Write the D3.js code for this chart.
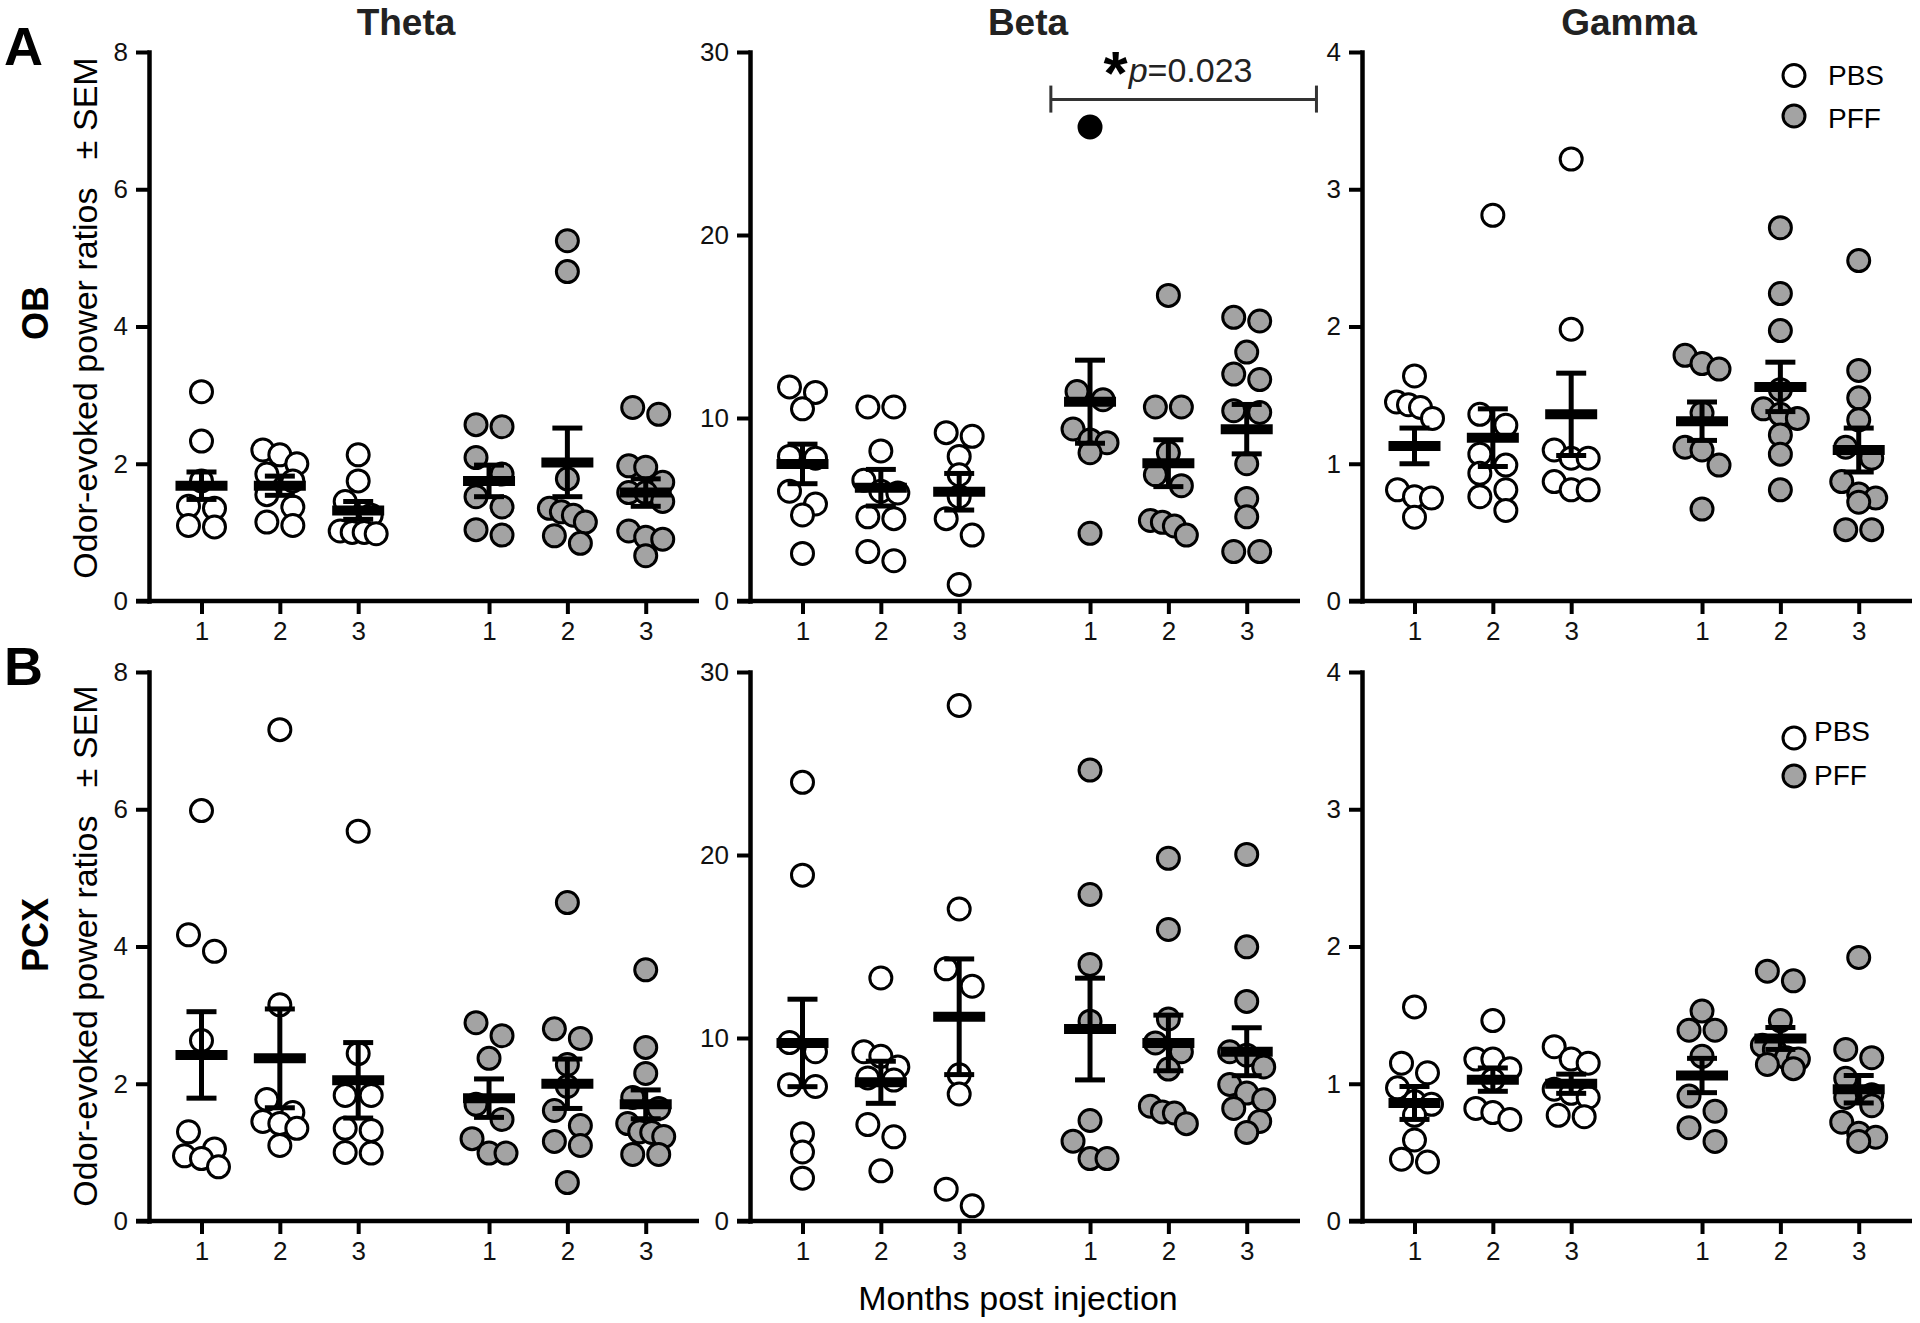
<!DOCTYPE html>
<html>
<head>
<meta charset="utf-8">
<script src="https://cdn.jsdelivr.net/npm/d3@7"></script>
<style>
  body { margin: 0; background: #fff; }
  svg { display: block; }
</style>
</head>
<body>
<div id="chart"></div>
<script>
// categories and tick labels
const months = ['1', '2', '3'];
const treatments = ['PBS', 'PFF'];
const bands = ['Theta', 'Beta', 'Gamma'];
const regions = ['OB', 'PCX'];
const yMaxima = [8, 30, 4];
const yTickValues = [[0, 2, 4, 6, 8], [0, 10, 20, 30], [0, 1, 2, 3, 4]];

// A - OB, values per month (1, 2, 3)
const thetaObPbs = [[3.05, 2.33, 1.75, 1.38, 1.35, 1.1, 1.08], [2.2, 2.13, 2.0, 1.85, 1.75, 1.55, 1.37, 1.1, 1.15], [2.13, 1.75, 1.45, 1.25, 1.0, 1.0, 1.02, 0.98]];
const thetaObPff = [[2.57, 2.54, 2.09, 1.85, 1.52, 1.37, 0.96, 1.04], [5.25, 4.8, 1.78, 1.35, 1.3, 1.25, 1.15, 0.95, 0.84], [2.82, 2.72, 1.95, 1.97, 1.73, 1.58, 1.45, 1.58, 1.02, 0.9, 0.93, 0.66]];
const thetaObMean = [1.68, 1.68, 1.32, 1.75, 2.02, 1.58];
const thetaObSem = [0.2, 0.14, 0.13, 0.23, 0.5, 0.2];

const betaObPbs = [[11.7, 11.4, 10.5, 7.9, 7.8, 6.0, 5.3, 4.7, 2.6], [10.6, 10.6, 8.2, 6.6, 6.0, 5.9, 4.5, 4.6, 2.2, 2.7], [9.2, 9.0, 7.9, 6.9, 5.7, 4.5, 3.6, 0.9]];
const betaObPff = [[11.45, 11.0, 9.4, 8.8, 8.65, 8.1, 3.7], [16.7, 10.6, 10.6, 8.1, 6.9, 6.3, 4.4, 4.3, 4.1, 3.6], [15.5, 15.3, 13.6, 12.4, 12.1, 10.4, 10.3, 7.5, 5.6, 4.6, 2.7, 2.7]];
const betaObPffFlagged = [[25.9], [], []];
const betaObMean = [7.49, 6.19, 5.97, 10.89, 7.53, 9.39];
const betaObSem = [1.08, 1.0, 1.0, 2.27, 1.28, 1.35];

const gammaObPbs = [[1.64, 1.45, 1.43, 1.41, 1.33, 0.81, 0.76, 0.75, 0.61], [2.81, 1.36, 1.28, 1.07, 0.99, 0.93, 0.81, 0.76, 0.66], [3.22, 1.98, 1.1, 1.04, 1.04, 0.87, 0.81, 0.81]];
const gammaObPff = [[1.79, 1.73, 1.69, 1.37, 1.12, 1.1, 0.99, 0.67], [2.72, 2.24, 1.97, 1.54, 1.4, 1.36, 1.33, 1.21, 1.07, 0.81], [2.48, 1.68, 1.48, 1.32, 1.12, 1.04, 0.87, 0.78, 0.75, 0.72, 0.52, 0.52]];
const gammaObMean = [1.13, 1.19, 1.36, 1.31, 1.56, 1.1];
const gammaObSem = [0.13, 0.21, 0.3, 0.14, 0.18, 0.16];

// B - PCX
const thetaPcxPbs = [[5.98, 4.17, 3.93, 2.63, 1.3, 1.05, 0.95, 0.91, 0.79], [7.16, 3.15, 1.77, 1.58, 1.45, 1.42, 1.35, 1.1], [5.68, 2.44, 1.83, 1.83, 1.32, 1.35, 0.99, 1.0]];
const thetaPcxPff = [[2.89, 2.7, 2.37, 1.7, 1.48, 1.2, 0.99, 0.99], [4.64, 2.8, 2.66, 2.28, 1.96, 1.61, 1.39, 1.16, 1.1, 0.56], [3.66, 2.53, 2.15, 1.8, 1.64, 1.42, 1.3, 1.29, 1.23, 0.97, 0.97]];
const thetaPcxMean = [2.42, 2.37, 2.05, 1.79, 2.0, 1.7];
const thetaPcxSem = [0.63, 0.72, 0.55, 0.28, 0.36, 0.21];

const betaPcxPbs = [[23.97, 18.9, 9.75, 9.25, 7.45, 7.35, 4.77, 3.77, 2.34], [13.28, 9.25, 9.0, 8.42, 7.82, 7.7, 5.27, 4.6, 2.74], [28.17, 17.05, 13.78, 12.83, 7.99, 6.94, 1.74, 0.83]];
const betaPcxPff = [[24.64, 17.84, 14.02, 10.92, 5.49, 4.36, 3.41, 3.41], [19.82, 15.93, 11.04, 9.73, 9.25, 8.3, 6.27, 5.96, 5.9, 5.32], [20.03, 14.98, 12.0, 9.25, 9.06, 8.42, 7.46, 6.99, 6.63, 6.15, 5.44, 4.84]];
const betaPcxMean = [9.73, 7.58, 11.16, 10.49, 9.73, 9.25];
const betaPcxSem = [2.39, 1.15, 3.16, 2.78, 1.52, 1.31];

const gammaPcxPbs = [[1.56, 1.15, 1.08, 0.97, 0.87, 0.85, 0.77, 0.59, 0.45, 0.43], [1.46, 1.18, 1.18, 1.11, 1.03, 0.82, 0.79, 0.74], [1.27, 1.18, 1.15, 0.96, 0.93, 0.9, 0.77, 0.76]];
const gammaPcxPff = [[1.53, 1.39, 1.39, 1.2, 0.91, 0.8, 0.68, 0.58], [1.82, 1.75, 1.46, 1.28, 1.25, 1.19, 1.18, 1.14, 1.11], [1.92, 1.25, 1.19, 1.04, 0.92, 0.9, 0.84, 0.72, 0.64, 0.61, 0.58]];
const gammaPcxMean = [0.86, 1.03, 1.0, 1.06, 1.33, 0.96];
const gammaPcxSem = [0.12, 0.085, 0.07, 0.125, 0.08, 0.1];

// significance annotation (Beta, OB, PBS vs PFF)
const betaObBracketLevel = 27.4;
const betaObPText = 'p=0.023';

// panel table built from the arrays above
const panels = [
  [
    { pbs: thetaObPbs, pff: thetaObPff, mean: thetaObMean, sem: thetaObSem },
    { pbs: betaObPbs, pff: betaObPff, flagged: betaObPffFlagged, mean: betaObMean, sem: betaObSem },
    { pbs: gammaObPbs, pff: gammaObPff, mean: gammaObMean, sem: gammaObSem }
  ],
  [
    { pbs: thetaPcxPbs, pff: thetaPcxPff, mean: thetaPcxMean, sem: thetaPcxSem },
    { pbs: betaPcxPbs, pff: betaPcxPff, mean: betaPcxMean, sem: betaPcxSem },
    { pbs: gammaPcxPbs, pff: gammaPcxPff, mean: gammaPcxMean, sem: gammaPcxSem }
  ]
];

// layout
const FONT = '"Liberation Sans", Arial, Helvetica, sans-serif';
const width = 1920, height = 1323;
const colAxisX = [149, 750, 1362];
const rowTop = [52, 672];
const rowBottom = [601, 1221];
const plotWidth = 550;
const slots = [1, 2, 3, 4.67, 5.67, 6.67];
const tickLen = 13;
const dotR = 11;
const pffFill = '#a3a3a3';

const svg = d3.select('#chart')
  .append('svg')
  .attr('width', width)
  .attr('height', height)
  .style('font-family', FONT);

svg.append('rect').attr('width', width).attr('height', height).attr('fill', '#fff');

// place dots of one group: rows of nearby values are spread symmetrically
function rowSpacing(n) {
  if (n <= 1) return 0;
  if (n === 2) return 26;
  if (n === 3) return 17;
  if (n === 4) return 12;
  return 44 / (n - 1);
}

function swarm(items, cx, y) {
  const sorted = items.slice().sort((a, b) => b.value - a.value);
  const rows = [];
  sorted.forEach(d => {
    const py = y(d.value);
    const last = rows[rows.length - 1];
    if (last && py - last.y0 < 18) last.items.push(d);
    else rows.push({ y0: py, items: [d] });
  });
  const out = [];
  rows.forEach(row => {
    const n = row.items.length;
    const sp = rowSpacing(n);
    row.items.forEach((d, k) => {
      out.push({ ...d, px: cx + (k - (n - 1) / 2) * sp, py: y(d.value) });
    });
  });
  return out;
}

function drawPanel(r, c) {
  const panel = panels[r][c];
  const ax = colAxisX[c];
  const y = d3.scaleLinear().domain([0, yMaxima[c]]).range([rowBottom[r], rowTop[r]]);
  const x = d3.scaleLinear().domain([0.33, 7.35]).range([ax, ax + plotWidth]);
  const g = svg.append('g');

  // y axis
  const ya = g.append('g')
    .attr('transform', `translate(${ax},0)`)
    .call(d3.axisLeft(y).tickValues(yTickValues[c]).tickFormat(d => String(d))
      .tickSize(tickLen).tickSizeOuter(0).tickPadding(8))
    .attr('font-family', FONT)
    .attr('font-size', 26);
  ya.select('.domain').attr('stroke', '#000').attr('stroke-width', 4.5).attr('stroke-linecap', 'square');
  ya.selectAll('.tick line').attr('stroke', '#000').attr('stroke-width', 4);
  ya.selectAll('.tick text').attr('fill', '#111');

  // x axis
  const xa = g.append('g')
    .attr('transform', `translate(0,${rowBottom[r]})`)
    .call(d3.axisBottom(x).tickValues(slots).tickFormat((d, i) => months[i % 3])
      .tickSize(tickLen).tickSizeOuter(0).tickPadding(8))
    .attr('font-family', FONT)
    .attr('font-size', 26);
  xa.select('.domain').remove();
  xa.append('line')
    .attr('x1', x.range()[0] - tickLen).attr('x2', x.range()[1])
    .attr('stroke', '#000').attr('stroke-width', 4.5);
  xa.selectAll('.tick line').attr('stroke', '#000').attr('stroke-width', 4);
  xa.selectAll('.tick text').attr('fill', '#111');

  // dots
  slots.forEach((s, i) => {
    let items;
    if (i < 3) {
      items = panel.pbs[i].map(v => ({ value: v, fill: '#fff' }));
    } else {
      items = panel.pff[i - 3].map(v => ({ value: v, fill: pffFill }));
      if (panel.flagged) panel.flagged[i - 3].forEach(v => items.push({ value: v, fill: '#000' }));
    }
    const placed = swarm(items, x(s), y);
    g.append('g').selectAll('circle')
      .data(placed)
      .enter()
      .append('circle')
      .attr('cx', d => d.px)
      .attr('cy', d => d.py)
      .attr('r', dotR)
      .attr('fill', d => d.fill)
      .attr('stroke', '#000')
      .attr('stroke-width', 3);
  });

  // mean +/- SEM
  const stats = g.append('g').attr('stroke', '#000');
  slots.forEach((s, i) => {
    const cx = x(s), m = panel.mean[i], e = panel.sem[i];
    stats.append('line')
      .attr('x1', cx).attr('x2', cx)
      .attr('y1', y(m - e)).attr('y2', y(m + e))
      .attr('stroke-width', 5);
    [m - e, m + e].forEach(v => {
      stats.append('line')
        .attr('x1', cx - 15).attr('x2', cx + 15)
        .attr('y1', y(v)).attr('y2', y(v))
        .attr('stroke-width', 5);
    });
    stats.append('line')
      .attr('x1', cx - 26).attr('x2', cx + 26)
      .attr('y1', y(m)).attr('y2', y(m))
      .attr('stroke-width', 10);
  });

  return { x, y };
}

const scales = [];
regions.forEach((reg, r) => {
  scales.push(bands.map((b, c) => drawPanel(r, c)));
});

// band titles
const titleX = [406, 1028, 1629];
bands.forEach((b, c) => {
  svg.append('text')
    .attr('x', titleX[c]).attr('y', 35)
    .attr('text-anchor', 'middle')
    .attr('font-size', 37).attr('font-weight', 'bold')
    .attr('fill', '#222')
    .text(b);
});

// panel letters, region labels, y labels
const letterBase = [65, 685];
const yLabelCenter = [318, 946];
const regionCenter = [313, 935];
regions.forEach((reg, r) => {
  svg.append('text')
    .attr('x', 4).attr('y', letterBase[r])
    .attr('font-size', 54).attr('font-weight', 'bold')
    .text(r === 0 ? 'A' : 'B');
  svg.append('text')
    .attr('transform', `translate(48,${regionCenter[r]}) rotate(-90)`)
    .attr('text-anchor', 'middle')
    .attr('font-size', 36).attr('font-weight', 'bold')
    .text(reg);
  svg.append('text')
    .attr('transform', `translate(97,${yLabelCenter[r]}) rotate(-90)`)
    .attr('text-anchor', 'middle')
    .attr('font-size', 34)
    .style('white-space', 'pre')
    .text('Odor-evoked power ratios   \u00b1 SEM');
});

// x title
svg.append('text')
  .attr('x', 1018).attr('y', 1310)
  .attr('text-anchor', 'middle')
  .attr('font-size', 34)
  .text('Months post injection');

// legends
const legendSpots = [
  { cx: 1794, cy: [75.5, 116], tx: 1828, ty: [75, 118] },
  { cx: 1794, cy: [738, 776], tx: 1814, ty: [731, 775] }
];
legendSpots.forEach(l => {
  treatments.forEach((t, i) => {
    svg.append('circle')
      .attr('cx', l.cx).attr('cy', l.cy[i]).attr('r', dotR)
      .attr('fill', i === 0 ? '#fff' : pffFill)
      .attr('stroke', '#000').attr('stroke-width', 3);
    svg.append('text')
      .attr('x', l.tx).attr('y', l.ty[i]).attr('dy', '0.35em')
      .attr('font-size', 28)
      .text(t);
  });
});

// significance bracket on Beta / OB
const bx = scales[0][1].x, by = scales[0][1].y;
const bL = bx(4.17), bR = bx(7.56), bY = by(betaObBracketLevel);
const bracket = svg.append('g').attr('stroke', '#333').attr('stroke-width', 3);
bracket.append('line').attr('x1', bL).attr('x2', bR).attr('y1', bY).attr('y2', bY);
[bL, bR].forEach(xx => {
  bracket.append('line').attr('x1', xx).attr('x2', xx).attr('y1', bY - 14).attr('y2', bY + 13);
});
const bMid = (bL + bR) / 2;
svg.append('text')
  .attr('x', bMid - 68).attr('y', 94)
  .attr('text-anchor', 'middle')
  .attr('font-size', 62).attr('font-weight', 'bold')
  .text('*');
const pt = svg.append('text')
  .attr('x', bMid - 55).attr('y', 82)
  .attr('font-size', 34).attr('fill', '#222');
pt.append('tspan').attr('font-style', 'italic').text(betaObPText.slice(0, 1));
pt.append('tspan').text(betaObPText.slice(1));
</script>
</body>
</html>
